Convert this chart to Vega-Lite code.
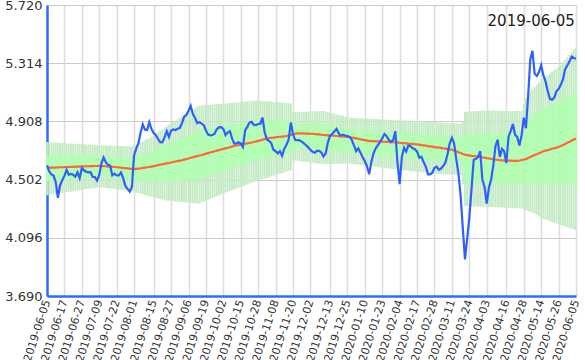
{
"$schema":"https://vega.github.io/schema/vega-lite/v6.json",
"width":529,"height":291,
"autosize":{"type":"none"},
"padding":{"left":47,"top":5,"right":9,"bottom":64},
"background":"white",
"title":{"text":"2019-06-05","anchor":"end","orient":"top","offset":-10,"baseline":"top","dx":-6,"dy":20,"fontSize":15,"fontWeight":"normal","font":"DejaVu Sans","color":"#222222"},
"config":{"view":{"stroke":"#c8c8c8","strokeWidth":1}},
"data":{"values":[
{"date":"2019-06-05","price":4.602,"ma":4.584,"u2":4.764,"u1":4.671,"l1":4.491,"l2":4.393},
{"date":"2019-06-06","price":4.56,"ma":4.585,"u2":4.763,"u1":4.671,"l1":4.492,"l2":4.395},
{"date":"2019-06-07","price":4.538,"ma":4.585,"u2":4.762,"u1":4.671,"l1":4.494,"l2":4.398},
{"date":"2019-06-10","price":4.53,"ma":4.586,"u2":4.761,"u1":4.671,"l1":4.495,"l2":4.4},
{"date":"2019-06-11","price":4.486,"ma":4.586,"u2":4.76,"u1":4.67,"l1":4.496,"l2":4.402},
{"date":"2019-06-12","price":4.375,"ma":4.587,"u2":4.759,"u1":4.67,"l1":4.497,"l2":4.405},
{"date":"2019-06-13","price":4.463,"ma":4.588,"u2":4.758,"u1":4.67,"l1":4.499,"l2":4.407},
{"date":"2019-06-14","price":4.497,"ma":4.588,"u2":4.757,"u1":4.67,"l1":4.5,"l2":4.409},
{"date":"2019-06-17","price":4.528,"ma":4.589,"u2":4.756,"u1":4.67,"l1":4.501,"l2":4.412},
{"date":"2019-06-18","price":4.57,"ma":4.59,"u2":4.755,"u1":4.67,"l1":4.503,"l2":4.414},
{"date":"2019-06-19","price":4.535,"ma":4.59,"u2":4.754,"u1":4.67,"l1":4.504,"l2":4.416},
{"date":"2019-06-20","price":4.542,"ma":4.591,"u2":4.753,"u1":4.67,"l1":4.505,"l2":4.419},
{"date":"2019-06-21","price":4.536,"ma":4.591,"u2":4.753,"u1":4.67,"l1":4.507,"l2":4.421},
{"date":"2019-06-24","price":4.522,"ma":4.592,"u2":4.752,"u1":4.669,"l1":4.508,"l2":4.423},
{"date":"2019-06-25","price":4.553,"ma":4.593,"u2":4.751,"u1":4.669,"l1":4.509,"l2":4.426},
{"date":"2019-06-26","price":4.512,"ma":4.593,"u2":4.75,"u1":4.669,"l1":4.51,"l2":4.428},
{"date":"2019-06-27","price":4.583,"ma":4.594,"u2":4.749,"u1":4.669,"l1":4.512,"l2":4.43},
{"date":"2019-06-28","price":4.567,"ma":4.594,"u2":4.748,"u1":4.669,"l1":4.513,"l2":4.433},
{"date":"2019-07-01","price":4.557,"ma":4.595,"u2":4.747,"u1":4.669,"l1":4.514,"l2":4.435},
{"date":"2019-07-02","price":4.552,"ma":4.595,"u2":4.746,"u1":4.669,"l1":4.516,"l2":4.437},
{"date":"2019-07-03","price":4.554,"ma":4.596,"u2":4.745,"u1":4.668,"l1":4.517,"l2":4.44},
{"date":"2019-07-04","price":4.52,"ma":4.596,"u2":4.744,"u1":4.668,"l1":4.518,"l2":4.442},
{"date":"2019-07-05","price":4.52,"ma":4.597,"u2":4.743,"u1":4.668,"l1":4.52,"l2":4.444},
{"date":"2019-07-08","price":4.495,"ma":4.597,"u2":4.742,"u1":4.668,"l1":4.521,"l2":4.447},
{"date":"2019-07-09","price":4.535,"ma":4.598,"u2":4.741,"u1":4.668,"l1":4.522,"l2":4.449},
{"date":"2019-07-10","price":4.616,"ma":4.597,"u2":4.741,"u1":4.667,"l1":4.521,"l2":4.447},
{"date":"2019-07-11","price":4.657,"ma":4.596,"u2":4.74,"u1":4.667,"l1":4.519,"l2":4.445},
{"date":"2019-07-12","price":4.624,"ma":4.595,"u2":4.74,"u1":4.666,"l1":4.518,"l2":4.443},
{"date":"2019-07-16","price":4.605,"ma":4.593,"u2":4.739,"u1":4.665,"l1":4.516,"l2":4.442},
{"date":"2019-07-17","price":4.6,"ma":4.592,"u2":4.739,"u1":4.665,"l1":4.515,"l2":4.44},
{"date":"2019-07-18","price":4.532,"ma":4.591,"u2":4.738,"u1":4.664,"l1":4.513,"l2":4.438},
{"date":"2019-07-19","price":4.543,"ma":4.59,"u2":4.738,"u1":4.663,"l1":4.512,"l2":4.436},
{"date":"2019-07-22","price":4.532,"ma":4.588,"u2":4.737,"u1":4.663,"l1":4.51,"l2":4.434},
{"date":"2019-07-23","price":4.532,"ma":4.587,"u2":4.737,"u1":4.662,"l1":4.509,"l2":4.432},
{"date":"2019-07-24","price":4.552,"ma":4.585,"u2":4.736,"u1":4.661,"l1":4.507,"l2":4.43},
{"date":"2019-07-25","price":4.51,"ma":4.583,"u2":4.736,"u1":4.661,"l1":4.506,"l2":4.428},
{"date":"2019-07-26","price":4.458,"ma":4.582,"u2":4.735,"u1":4.66,"l1":4.504,"l2":4.427},
{"date":"2019-07-29","price":4.437,"ma":4.58,"u2":4.735,"u1":4.659,"l1":4.503,"l2":4.425},
{"date":"2019-07-30","price":4.418,"ma":4.578,"u2":4.734,"u1":4.659,"l1":4.501,"l2":4.423},
{"date":"2019-07-31","price":4.45,"ma":4.577,"u2":4.734,"u1":4.658,"l1":4.5,"l2":4.421},
{"date":"2019-08-01","price":4.67,"ma":4.575,"u2":4.741,"u1":4.662,"l1":4.498,"l2":4.417},
{"date":"2019-08-02","price":4.72,"ma":4.577,"u2":4.748,"u1":4.666,"l1":4.497,"l2":4.412},
{"date":"2019-08-05","price":4.756,"ma":4.579,"u2":4.755,"u1":4.67,"l1":4.495,"l2":4.408},
{"date":"2019-08-06","price":4.83,"ma":4.581,"u2":4.762,"u1":4.674,"l1":4.494,"l2":4.404},
{"date":"2019-08-07","price":4.887,"ma":4.584,"u2":4.769,"u1":4.677,"l1":4.492,"l2":4.399},
{"date":"2019-08-08","price":4.85,"ma":4.586,"u2":4.776,"u1":4.681,"l1":4.49,"l2":4.395},
{"date":"2019-08-09","price":4.848,"ma":4.588,"u2":4.783,"u1":4.685,"l1":4.489,"l2":4.39},
{"date":"2019-08-13","price":4.903,"ma":4.59,"u2":4.79,"u1":4.689,"l1":4.487,"l2":4.386},
{"date":"2019-08-14","price":4.855,"ma":4.593,"u2":4.801,"u1":4.696,"l1":4.487,"l2":4.382},
{"date":"2019-08-15","price":4.827,"ma":4.596,"u2":4.812,"u1":4.704,"l1":4.487,"l2":4.378},
{"date":"2019-08-16","price":4.812,"ma":4.599,"u2":4.823,"u1":4.711,"l1":4.487,"l2":4.374},
{"date":"2019-08-19","price":4.785,"ma":4.603,"u2":4.833,"u1":4.719,"l1":4.486,"l2":4.37},
{"date":"2019-08-20","price":4.763,"ma":4.606,"u2":4.844,"u1":4.726,"l1":4.486,"l2":4.366},
{"date":"2019-08-21","price":4.762,"ma":4.609,"u2":4.855,"u1":4.734,"l1":4.486,"l2":4.362},
{"date":"2019-08-22","price":4.796,"ma":4.612,"u2":4.866,"u1":4.741,"l1":4.486,"l2":4.358},
{"date":"2019-08-23","price":4.84,"ma":4.615,"u2":4.876,"u1":4.748,"l1":4.487,"l2":4.356},
{"date":"2019-08-26","price":4.8,"ma":4.618,"u2":4.885,"u1":4.754,"l1":4.488,"l2":4.355},
{"date":"2019-08-27","price":4.845,"ma":4.621,"u2":4.895,"u1":4.761,"l1":4.489,"l2":4.353},
{"date":"2019-08-28","price":4.852,"ma":4.625,"u2":4.905,"u1":4.767,"l1":4.49,"l2":4.351},
{"date":"2019-08-29","price":4.848,"ma":4.628,"u2":4.914,"u1":4.774,"l1":4.491,"l2":4.349},
{"date":"2019-08-30","price":4.857,"ma":4.631,"u2":4.924,"u1":4.78,"l1":4.492,"l2":4.348},
{"date":"2019-09-02","price":4.862,"ma":4.634,"u2":4.933,"u1":4.787,"l1":4.493,"l2":4.346},
{"date":"2019-09-03","price":4.896,"ma":4.637,"u2":4.943,"u1":4.793,"l1":4.494,"l2":4.344},
{"date":"2019-09-04","price":4.94,"ma":4.641,"u2":4.953,"u1":4.8,"l1":4.496,"l2":4.343},
{"date":"2019-09-05","price":4.953,"ma":4.645,"u2":4.962,"u1":4.807,"l1":4.497,"l2":4.342},
{"date":"2019-09-06","price":4.982,"ma":4.649,"u2":4.972,"u1":4.814,"l1":4.499,"l2":4.341},
{"date":"2019-09-09","price":5.017,"ma":4.654,"u2":4.981,"u1":4.821,"l1":4.5,"l2":4.34},
{"date":"2019-09-10","price":4.96,"ma":4.658,"u2":4.991,"u1":4.827,"l1":4.502,"l2":4.338},
{"date":"2019-09-11","price":4.932,"ma":4.662,"u2":5.0,"u1":4.834,"l1":4.503,"l2":4.337},
{"date":"2019-09-12","price":4.897,"ma":4.666,"u2":5.01,"u1":4.841,"l1":4.505,"l2":4.336},
{"date":"2019-09-13","price":4.903,"ma":4.67,"u2":5.019,"u1":4.848,"l1":4.506,"l2":4.335},
{"date":"2019-09-17","price":4.893,"ma":4.674,"u2":5.02,"u1":4.85,"l1":4.511,"l2":4.341},
{"date":"2019-09-18","price":4.882,"ma":4.678,"u2":5.021,"u1":4.852,"l1":4.517,"l2":4.348},
{"date":"2019-09-19","price":4.845,"ma":4.683,"u2":5.022,"u1":4.853,"l1":4.522,"l2":4.354},
{"date":"2019-09-20","price":4.816,"ma":4.687,"u2":5.023,"u1":4.855,"l1":4.527,"l2":4.36},
{"date":"2019-09-24","price":4.811,"ma":4.691,"u2":5.024,"u1":4.857,"l1":4.532,"l2":4.367},
{"date":"2019-09-25","price":4.813,"ma":4.695,"u2":5.026,"u1":4.859,"l1":4.538,"l2":4.373},
{"date":"2019-09-26","price":4.822,"ma":4.7,"u2":5.027,"u1":4.861,"l1":4.543,"l2":4.38},
{"date":"2019-09-27","price":4.854,"ma":4.704,"u2":5.028,"u1":4.863,"l1":4.548,"l2":4.386},
{"date":"2019-09-30","price":4.866,"ma":4.708,"u2":5.029,"u1":4.864,"l1":4.553,"l2":4.392},
{"date":"2019-10-01","price":4.868,"ma":4.712,"u2":5.03,"u1":4.866,"l1":4.559,"l2":4.399},
{"date":"2019-10-02","price":4.855,"ma":4.716,"u2":5.031,"u1":4.868,"l1":4.564,"l2":4.405},
{"date":"2019-10-03","price":4.813,"ma":4.72,"u2":5.033,"u1":4.871,"l1":4.569,"l2":4.411},
{"date":"2019-10-04","price":4.83,"ma":4.724,"u2":5.034,"u1":4.874,"l1":4.574,"l2":4.416},
{"date":"2019-10-07","price":4.84,"ma":4.728,"u2":5.036,"u1":4.877,"l1":4.579,"l2":4.422},
{"date":"2019-10-08","price":4.79,"ma":4.732,"u2":5.037,"u1":4.881,"l1":4.583,"l2":4.428},
{"date":"2019-10-09","price":4.753,"ma":4.736,"u2":5.039,"u1":4.884,"l1":4.588,"l2":4.433},
{"date":"2019-10-10","price":4.755,"ma":4.74,"u2":5.04,"u1":4.887,"l1":4.593,"l2":4.439},
{"date":"2019-10-11","price":4.763,"ma":4.743,"u2":5.042,"u1":4.89,"l1":4.598,"l2":4.445},
{"date":"2019-10-15","price":4.755,"ma":4.746,"u2":5.043,"u1":4.893,"l1":4.603,"l2":4.45},
{"date":"2019-10-16","price":4.73,"ma":4.749,"u2":5.045,"u1":4.896,"l1":4.608,"l2":4.456},
{"date":"2019-10-17","price":4.845,"ma":4.752,"u2":5.046,"u1":4.899,"l1":4.613,"l2":4.462},
{"date":"2019-10-18","price":4.87,"ma":4.755,"u2":5.048,"u1":4.902,"l1":4.618,"l2":4.467},
{"date":"2019-10-21","price":4.9,"ma":4.758,"u2":5.049,"u1":4.906,"l1":4.622,"l2":4.473},
{"date":"2019-10-23","price":4.905,"ma":4.761,"u2":5.051,"u1":4.909,"l1":4.627,"l2":4.479},
{"date":"2019-10-24","price":4.883,"ma":4.764,"u2":5.052,"u1":4.912,"l1":4.632,"l2":4.484},
{"date":"2019-10-25","price":4.882,"ma":4.768,"u2":5.054,"u1":4.915,"l1":4.637,"l2":4.49},
{"date":"2019-10-28","price":4.89,"ma":4.772,"u2":5.053,"u1":4.915,"l1":4.64,"l2":4.495},
{"date":"2019-10-29","price":4.892,"ma":4.776,"u2":5.051,"u1":4.915,"l1":4.643,"l2":4.5},
{"date":"2019-10-30","price":4.935,"ma":4.78,"u2":5.05,"u1":4.915,"l1":4.646,"l2":4.504},
{"date":"2019-10-31","price":4.83,"ma":4.784,"u2":5.049,"u1":4.915,"l1":4.649,"l2":4.509},
{"date":"2019-11-01","price":4.783,"ma":4.788,"u2":5.047,"u1":4.915,"l1":4.652,"l2":4.514},
{"date":"2019-11-05","price":4.772,"ma":4.792,"u2":5.046,"u1":4.915,"l1":4.655,"l2":4.519},
{"date":"2019-11-06","price":4.757,"ma":4.794,"u2":5.045,"u1":4.915,"l1":4.658,"l2":4.524},
{"date":"2019-11-07","price":4.71,"ma":4.795,"u2":5.044,"u1":4.915,"l1":4.661,"l2":4.528},
{"date":"2019-11-08","price":4.7,"ma":4.797,"u2":5.042,"u1":4.915,"l1":4.664,"l2":4.533},
{"date":"2019-11-11","price":4.685,"ma":4.799,"u2":5.041,"u1":4.915,"l1":4.667,"l2":4.538},
{"date":"2019-11-12","price":4.7,"ma":4.801,"u2":5.04,"u1":4.915,"l1":4.67,"l2":4.543},
{"date":"2019-11-13","price":4.668,"ma":4.802,"u2":5.038,"u1":4.915,"l1":4.673,"l2":4.548},
{"date":"2019-11-14","price":4.718,"ma":4.804,"u2":5.037,"u1":4.915,"l1":4.676,"l2":4.553},
{"date":"2019-11-15","price":4.745,"ma":4.806,"u2":5.036,"u1":4.915,"l1":4.679,"l2":4.557},
{"date":"2019-11-18","price":4.78,"ma":4.81,"u2":5.034,"u1":4.915,"l1":4.682,"l2":4.562},
{"date":"2019-11-19","price":4.9,"ma":4.814,"u2":5.033,"u1":4.915,"l1":4.685,"l2":4.567},
{"date":"2019-11-20","price":4.82,"ma":4.817,"u2":4.973,"u1":4.887,"l1":4.72,"l2":4.637},
{"date":"2019-11-21","price":4.778,"ma":4.821,"u2":4.974,"u1":4.887,"l1":4.719,"l2":4.635},
{"date":"2019-11-22","price":4.777,"ma":4.825,"u2":4.974,"u1":4.887,"l1":4.717,"l2":4.633},
{"date":"2019-11-25","price":4.776,"ma":4.825,"u2":4.975,"u1":4.887,"l1":4.716,"l2":4.631},
{"date":"2019-11-26","price":4.767,"ma":4.824,"u2":4.975,"u1":4.887,"l1":4.715,"l2":4.629},
{"date":"2019-11-27","price":4.755,"ma":4.824,"u2":4.976,"u1":4.887,"l1":4.714,"l2":4.627},
{"date":"2019-11-28","price":4.742,"ma":4.823,"u2":4.976,"u1":4.887,"l1":4.712,"l2":4.625},
{"date":"2019-11-29","price":4.727,"ma":4.823,"u2":4.977,"u1":4.888,"l1":4.711,"l2":4.623},
{"date":"2019-12-02","price":4.709,"ma":4.822,"u2":4.978,"u1":4.888,"l1":4.71,"l2":4.621},
{"date":"2019-12-03","price":4.696,"ma":4.822,"u2":4.978,"u1":4.888,"l1":4.708,"l2":4.619},
{"date":"2019-12-04","price":4.689,"ma":4.82,"u2":4.979,"u1":4.888,"l1":4.707,"l2":4.617},
{"date":"2019-12-05","price":4.702,"ma":4.818,"u2":4.979,"u1":4.888,"l1":4.706,"l2":4.615},
{"date":"2019-12-06","price":4.703,"ma":4.817,"u2":4.98,"u1":4.888,"l1":4.705,"l2":4.613},
{"date":"2019-12-09","price":4.691,"ma":4.815,"u2":4.98,"u1":4.888,"l1":4.703,"l2":4.611},
{"date":"2019-12-10","price":4.663,"ma":4.813,"u2":4.981,"u1":4.888,"l1":4.702,"l2":4.609},
{"date":"2019-12-11","price":4.684,"ma":4.812,"u2":4.977,"u1":4.885,"l1":4.701,"l2":4.609},
{"date":"2019-12-12","price":4.76,"ma":4.811,"u2":4.973,"u1":4.882,"l1":4.701,"l2":4.61},
{"date":"2019-12-13","price":4.807,"ma":4.81,"u2":4.969,"u1":4.88,"l1":4.7,"l2":4.61},
{"date":"2019-12-16","price":4.82,"ma":4.809,"u2":4.965,"u1":4.877,"l1":4.699,"l2":4.611},
{"date":"2019-12-17","price":4.838,"ma":4.808,"u2":4.961,"u1":4.874,"l1":4.699,"l2":4.611},
{"date":"2019-12-18","price":4.855,"ma":4.806,"u2":4.957,"u1":4.871,"l1":4.698,"l2":4.612},
{"date":"2019-12-19","price":4.825,"ma":4.805,"u2":4.953,"u1":4.868,"l1":4.697,"l2":4.612},
{"date":"2019-12-20","price":4.808,"ma":4.804,"u2":4.949,"u1":4.865,"l1":4.697,"l2":4.612},
{"date":"2019-12-23","price":4.816,"ma":4.803,"u2":4.946,"u1":4.863,"l1":4.696,"l2":4.613},
{"date":"2019-12-24","price":4.81,"ma":4.801,"u2":4.942,"u1":4.86,"l1":4.695,"l2":4.613},
{"date":"2019-12-25","price":4.805,"ma":4.8,"u2":4.938,"u1":4.857,"l1":4.695,"l2":4.614},
{"date":"2019-12-26","price":4.8,"ma":4.799,"u2":4.934,"u1":4.854,"l1":4.694,"l2":4.614},
{"date":"2019-12-27","price":4.78,"ma":4.796,"u2":4.933,"u1":4.853,"l1":4.692,"l2":4.612},
{"date":"2019-12-30","price":4.741,"ma":4.793,"u2":4.932,"u1":4.852,"l1":4.691,"l2":4.61},
{"date":"2020-01-06","price":4.7,"ma":4.79,"u2":4.931,"u1":4.851,"l1":4.689,"l2":4.608},
{"date":"2020-01-07","price":4.72,"ma":4.787,"u2":4.931,"u1":4.85,"l1":4.687,"l2":4.606},
{"date":"2020-01-08","price":4.69,"ma":4.783,"u2":4.93,"u1":4.849,"l1":4.686,"l2":4.605},
{"date":"2020-01-09","price":4.658,"ma":4.78,"u2":4.93,"u1":4.847,"l1":4.684,"l2":4.603},
{"date":"2020-01-10","price":4.63,"ma":4.777,"u2":4.929,"u1":4.846,"l1":4.683,"l2":4.601},
{"date":"2020-01-14","price":4.595,"ma":4.774,"u2":4.928,"u1":4.845,"l1":4.681,"l2":4.599},
{"date":"2020-01-15","price":4.54,"ma":4.771,"u2":4.927,"u1":4.845,"l1":4.679,"l2":4.597},
{"date":"2020-01-16","price":4.625,"ma":4.77,"u2":4.926,"u1":4.844,"l1":4.677,"l2":4.595},
{"date":"2020-01-17","price":4.685,"ma":4.77,"u2":4.925,"u1":4.843,"l1":4.676,"l2":4.593},
{"date":"2020-01-20","price":4.72,"ma":4.769,"u2":4.924,"u1":4.841,"l1":4.674,"l2":4.591},
{"date":"2020-01-21","price":4.742,"ma":4.768,"u2":4.923,"u1":4.84,"l1":4.673,"l2":4.589},
{"date":"2020-01-22","price":4.764,"ma":4.768,"u2":4.922,"u1":4.839,"l1":4.671,"l2":4.587},
{"date":"2020-01-23","price":4.79,"ma":4.767,"u2":4.921,"u1":4.838,"l1":4.669,"l2":4.584},
{"date":"2020-01-24","price":4.82,"ma":4.766,"u2":4.921,"u1":4.836,"l1":4.668,"l2":4.582},
{"date":"2020-01-27","price":4.805,"ma":4.765,"u2":4.92,"u1":4.835,"l1":4.666,"l2":4.58},
{"date":"2020-01-28","price":4.78,"ma":4.765,"u2":4.919,"u1":4.834,"l1":4.665,"l2":4.58},
{"date":"2020-01-29","price":4.764,"ma":4.764,"u2":4.918,"u1":4.833,"l1":4.663,"l2":4.578},
{"date":"2020-01-30","price":4.777,"ma":4.763,"u2":4.917,"u1":4.832,"l1":4.661,"l2":4.576},
{"date":"2020-01-31","price":4.84,"ma":4.761,"u2":4.917,"u1":4.831,"l1":4.66,"l2":4.574},
{"date":"2020-02-03","price":4.62,"ma":4.76,"u2":4.916,"u1":4.83,"l1":4.658,"l2":4.573},
{"date":"2020-02-04","price":4.47,"ma":4.759,"u2":4.915,"u1":4.829,"l1":4.657,"l2":4.571},
{"date":"2020-02-05","price":4.66,"ma":4.757,"u2":4.914,"u1":4.828,"l1":4.655,"l2":4.569},
{"date":"2020-02-06","price":4.725,"ma":4.756,"u2":4.914,"u1":4.827,"l1":4.654,"l2":4.567},
{"date":"2020-02-07","price":4.698,"ma":4.755,"u2":4.913,"u1":4.826,"l1":4.652,"l2":4.565},
{"date":"2020-02-10","price":4.74,"ma":4.753,"u2":4.913,"u1":4.825,"l1":4.65,"l2":4.563},
{"date":"2020-02-12","price":4.735,"ma":4.752,"u2":4.912,"u1":4.824,"l1":4.649,"l2":4.562},
{"date":"2020-02-13","price":4.72,"ma":4.751,"u2":4.911,"u1":4.823,"l1":4.647,"l2":4.56},
{"date":"2020-02-14","price":4.714,"ma":4.749,"u2":4.91,"u1":4.822,"l1":4.646,"l2":4.558},
{"date":"2020-02-17","price":4.697,"ma":4.748,"u2":4.91,"u1":4.821,"l1":4.644,"l2":4.556},
{"date":"2020-02-18","price":4.655,"ma":4.746,"u2":4.909,"u1":4.82,"l1":4.643,"l2":4.554},
{"date":"2020-02-19","price":4.662,"ma":4.743,"u2":4.908,"u1":4.819,"l1":4.641,"l2":4.552},
{"date":"2020-02-20","price":4.625,"ma":4.741,"u2":4.907,"u1":4.818,"l1":4.64,"l2":4.551},
{"date":"2020-02-21","price":4.592,"ma":4.739,"u2":4.906,"u1":4.817,"l1":4.638,"l2":4.549},
{"date":"2020-02-25","price":4.539,"ma":4.736,"u2":4.906,"u1":4.816,"l1":4.637,"l2":4.547},
{"date":"2020-02-26","price":4.539,"ma":4.734,"u2":4.905,"u1":4.815,"l1":4.635,"l2":4.545},
{"date":"2020-02-27","price":4.55,"ma":4.732,"u2":4.904,"u1":4.814,"l1":4.634,"l2":4.544},
{"date":"2020-02-28","price":4.584,"ma":4.729,"u2":4.903,"u1":4.813,"l1":4.633,"l2":4.543},
{"date":"2020-03-02","price":4.592,"ma":4.727,"u2":4.902,"u1":4.812,"l1":4.632,"l2":4.542},
{"date":"2020-03-03","price":4.57,"ma":4.725,"u2":4.901,"u1":4.811,"l1":4.631,"l2":4.541},
{"date":"2020-03-04","price":4.579,"ma":4.723,"u2":4.9,"u1":4.81,"l1":4.63,"l2":4.54},
{"date":"2020-03-05","price":4.597,"ma":4.72,"u2":4.9,"u1":4.81,"l1":4.63,"l2":4.54},
{"date":"2020-03-06","price":4.62,"ma":4.718,"u2":4.899,"u1":4.809,"l1":4.629,"l2":4.539},
{"date":"2020-03-09","price":4.68,"ma":4.716,"u2":4.898,"u1":4.808,"l1":4.628,"l2":4.538},
{"date":"2020-03-10","price":4.755,"ma":4.713,"u2":4.897,"u1":4.807,"l1":4.627,"l2":4.537},
{"date":"2020-03-11","price":4.793,"ma":4.711,"u2":4.896,"u1":4.806,"l1":4.626,"l2":4.536},
{"date":"2020-03-12","price":4.755,"ma":4.705,"u2":4.895,"u1":4.805,"l1":4.625,"l2":4.535},
{"date":"2020-03-13","price":4.645,"ma":4.699,"u2":4.894,"u1":4.804,"l1":4.624,"l2":4.534},
{"date":"2020-03-16","price":4.545,"ma":4.693,"u2":4.893,"u1":4.803,"l1":4.623,"l2":4.533},
{"date":"2020-03-17","price":4.39,"ma":4.687,"u2":4.892,"u1":4.802,"l1":4.622,"l2":4.532},
{"date":"2020-03-18","price":4.165,"ma":4.681,"u2":4.91,"u1":4.8,"l1":4.58,"l2":4.47},
{"date":"2020-03-19","price":3.945,"ma":4.675,"u2":4.975,"u1":4.818,"l1":4.476,"l2":4.318},
{"date":"2020-03-23","price":4.09,"ma":4.673,"u2":4.976,"u1":4.818,"l1":4.476,"l2":4.317},
{"date":"2020-03-24","price":4.235,"ma":4.671,"u2":4.977,"u1":4.819,"l1":4.476,"l2":4.316},
{"date":"2020-03-25","price":4.435,"ma":4.668,"u2":4.978,"u1":4.819,"l1":4.475,"l2":4.316},
{"date":"2020-03-26","price":4.64,"ma":4.666,"u2":4.979,"u1":4.82,"l1":4.475,"l2":4.315},
{"date":"2020-03-27","price":4.645,"ma":4.664,"u2":4.98,"u1":4.82,"l1":4.475,"l2":4.315},
{"date":"2020-03-30","price":4.66,"ma":4.662,"u2":4.98,"u1":4.82,"l1":4.475,"l2":4.314},
{"date":"2020-03-31","price":4.7,"ma":4.66,"u2":4.981,"u1":4.821,"l1":4.475,"l2":4.314},
{"date":"2020-04-01","price":4.5,"ma":4.657,"u2":4.982,"u1":4.821,"l1":4.474,"l2":4.313},
{"date":"2020-04-02","price":4.45,"ma":4.655,"u2":4.983,"u1":4.822,"l1":4.474,"l2":4.313},
{"date":"2020-04-03","price":4.335,"ma":4.652,"u2":4.984,"u1":4.822,"l1":4.474,"l2":4.312},
{"date":"2020-04-06","price":4.445,"ma":4.65,"u2":4.984,"u1":4.823,"l1":4.474,"l2":4.311},
{"date":"2020-04-07","price":4.5,"ma":4.647,"u2":4.983,"u1":4.823,"l1":4.474,"l2":4.311},
{"date":"2020-04-08","price":4.6,"ma":4.645,"u2":4.983,"u1":4.824,"l1":4.474,"l2":4.31},
{"date":"2020-04-09","price":4.735,"ma":4.642,"u2":4.983,"u1":4.824,"l1":4.474,"l2":4.309},
{"date":"2020-04-10","price":4.78,"ma":4.64,"u2":4.983,"u1":4.825,"l1":4.474,"l2":4.308},
{"date":"2020-04-13","price":4.66,"ma":4.637,"u2":4.982,"u1":4.825,"l1":4.475,"l2":4.308},
{"date":"2020-04-14","price":4.716,"ma":4.636,"u2":4.982,"u1":4.826,"l1":4.475,"l2":4.307},
{"date":"2020-04-15","price":4.7,"ma":4.636,"u2":4.982,"u1":4.826,"l1":4.475,"l2":4.306},
{"date":"2020-04-16","price":4.618,"ma":4.635,"u2":4.982,"u1":4.827,"l1":4.475,"l2":4.305},
{"date":"2020-04-17","price":4.8,"ma":4.635,"u2":4.981,"u1":4.827,"l1":4.475,"l2":4.305},
{"date":"2020-04-20","price":4.84,"ma":4.634,"u2":4.981,"u1":4.828,"l1":4.475,"l2":4.304},
{"date":"2020-04-21","price":4.89,"ma":4.633,"u2":4.981,"u1":4.828,"l1":4.475,"l2":4.303},
{"date":"2020-04-22","price":4.815,"ma":4.633,"u2":4.981,"u1":4.829,"l1":4.475,"l2":4.302},
{"date":"2020-04-23","price":4.8,"ma":4.632,"u2":4.98,"u1":4.829,"l1":4.475,"l2":4.302},
{"date":"2020-04-24","price":4.74,"ma":4.635,"u2":4.98,"u1":4.83,"l1":4.475,"l2":4.301},
{"date":"2020-04-27","price":4.81,"ma":4.639,"u2":4.98,"u1":4.83,"l1":4.475,"l2":4.3},
{"date":"2020-04-28","price":4.934,"ma":4.642,"u2":5.03,"u1":4.84,"l1":4.475,"l2":4.296},
{"date":"2020-04-30","price":4.86,"ma":4.645,"u2":5.07,"u1":4.86,"l1":4.475,"l2":4.29},
{"date":"2020-05-01","price":5.08,"ma":4.652,"u2":5.1,"u1":4.9,"l1":4.475,"l2":4.282},
{"date":"2020-05-07","price":5.34,"ma":4.659,"u2":5.12,"u1":4.93,"l1":4.475,"l2":4.277},
{"date":"2020-05-08","price":5.4,"ma":4.666,"u2":5.135,"u1":4.95,"l1":4.475,"l2":4.272},
{"date":"2020-05-11","price":5.24,"ma":4.673,"u2":5.15,"u1":4.964,"l1":4.475,"l2":4.266},
{"date":"2020-05-12","price":5.225,"ma":4.679,"u2":5.164,"u1":4.971,"l1":4.475,"l2":4.255},
{"date":"2020-05-13","price":5.252,"ma":4.686,"u2":5.179,"u1":4.978,"l1":4.475,"l2":4.244},
{"date":"2020-05-14","price":5.3,"ma":4.693,"u2":5.193,"u1":4.985,"l1":4.475,"l2":4.233},
{"date":"2020-05-15","price":5.23,"ma":4.7,"u2":5.205,"u1":4.994,"l1":4.475,"l2":4.228},
{"date":"2020-05-18","price":5.187,"ma":4.704,"u2":5.218,"u1":5.003,"l1":4.475,"l2":4.223},
{"date":"2020-05-19","price":5.12,"ma":4.708,"u2":5.23,"u1":5.013,"l1":4.475,"l2":4.217},
{"date":"2020-05-20","price":5.065,"ma":4.712,"u2":5.243,"u1":5.022,"l1":4.475,"l2":4.212},
{"date":"2020-05-21","price":5.059,"ma":4.717,"u2":5.255,"u1":5.031,"l1":4.475,"l2":4.207},
{"date":"2020-05-22","price":5.072,"ma":4.721,"u2":5.265,"u1":5.036,"l1":4.475,"l2":4.201},
{"date":"2020-05-25","price":5.118,"ma":4.725,"u2":5.276,"u1":5.04,"l1":4.475,"l2":4.196},
{"date":"2020-05-26","price":5.134,"ma":4.729,"u2":5.286,"u1":5.045,"l1":4.475,"l2":4.19},
{"date":"2020-05-27","price":5.163,"ma":4.736,"u2":5.303,"u1":5.053,"l1":4.475,"l2":4.185},
{"date":"2020-05-28","price":5.2,"ma":4.744,"u2":5.321,"u1":5.062,"l1":4.475,"l2":4.18},
{"date":"2020-05-29","price":5.272,"ma":4.751,"u2":5.338,"u1":5.07,"l1":4.475,"l2":4.175},
{"date":"2020-06-01","price":5.298,"ma":4.759,"u2":5.356,"u1":5.079,"l1":4.475,"l2":4.17},
{"date":"2020-06-02","price":5.325,"ma":4.766,"u2":5.373,"u1":5.087,"l1":4.475,"l2":4.165},
{"date":"2020-06-03","price":5.36,"ma":4.773,"u2":5.39,"u1":5.095,"l1":4.475,"l2":4.16},
{"date":"2020-06-04","price":5.35,"ma":4.781,"u2":5.408,"u1":5.104,"l1":4.475,"l2":4.155},
{"date":"2020-06-05","price":5.345,"ma":4.788,"u2":5.425,"u1":5.112,"l1":4.475,"l2":4.15}
]},
"encoding":{
"x":{"field":"date","type":"ordinal","scale":{"type":"point","padding":0},
"axis":{"title":null,"values":["2019-06-05","2019-06-17","2019-06-27","2019-07-09","2019-07-22","2019-08-01","2019-08-15","2019-08-27","2019-09-06","2019-09-19","2019-10-02","2019-10-15","2019-10-28","2019-11-08","2019-11-20","2019-12-02","2019-12-13","2019-12-25","2020-01-10","2020-01-23","2020-02-04","2020-02-17","2020-02-28","2020-03-11","2020-03-24","2020-04-03","2020-04-16","2020-04-28","2020-05-14","2020-05-26","2020-06-05"],
"labelAngle":-72,"labelAlign":"right","labelBaseline":"middle","labelFont":"DejaVu Sans","labelFontSize":11,"labelColor":"#333333","labelPadding":4,"labelOverlap":false,"labelBound":false,"ticks":false,"grid":true,"gridColor":"#dcdcdc","gridWidth":1.5,"domainColor":"#2a6cff","domainWidth":2.5}}
},
"layer":[
{"mark":{"type":"bar","size":1.9,"color":"#c4ebc4"},
 "encoding":{"y":{"field":"u2","type":"quantitative","scale":{"domain":[3.69,5.72],"nice":false,"zero":false},
  "axis":{"title":null,"values":[3.69,4.096,4.502,4.908,5.314,5.72],"format":".3f","labelFont":"DejaVu Sans","labelFontSize":13,"labelColor":"#333333","labelPadding":5,"ticks":false,"grid":true,"gridColor":"#cccccc","gridWidth":1,"domainColor":"#2a6cff","domainWidth":2.5}},
  "y2":{"field":"l2"}}},
{"mark":{"type":"bar","size":2.3,"color":"#b0ffb0","opacity":0.9},
 "encoding":{"y":{"field":"u1","type":"quantitative"},"y2":{"field":"l1"}}},
{"mark":{"type":"line","color":"#ff6633","strokeWidth":2.2},
 "encoding":{"y":{"field":"ma","type":"quantitative"}}},
{"mark":{"type":"line","color":"#2f5fff","strokeWidth":2.2},
 "encoding":{"y":{"field":"price","type":"quantitative"}}}
]
}
